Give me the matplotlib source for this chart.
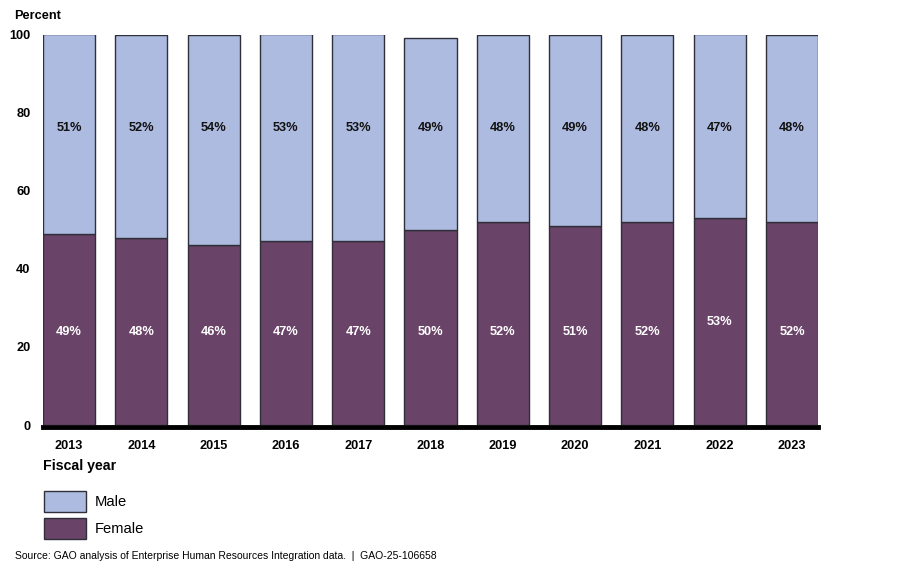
import matplotlib.pyplot as plt
from matplotlib.patches import Rectangle

plt.rcParams['font.family'] = ['Liberation Sans', 'DejaVu Sans']

years = ['2013', '2014', '2015', '2016', '2017', '2018', '2019', '2020', '2021', '2022', '2023']
female = [49, 48, 46, 47, 47, 50, 52, 51, 52, 53, 52]
male = [51, 52, 54, 53, 53, 49, 48, 49, 48, 47, 48]
yticks = [0, 20, 40, 60, 80, 100]

male_color = '#aebbe0'
female_color = '#6a4468'
edge = '#2f2f3a'

fig = plt.figure(figsize=(9, 5.73), dpi=100)
ax = fig.add_axes([43 / 900, 148 / 573, 775 / 900, 390.5 / 573])

x = list(range(len(years)))
ax.bar(x, female, width=0.72, color=female_color, edgecolor=edge, linewidth=1)
ax.bar(x, male, width=0.72, bottom=female, color=male_color, edgecolor=edge, linewidth=1)

# labels sit at fixed heights like the original
for i in x:
    ax.text(i, 76, f'{male[i]}%', ha='center', va='center', fontsize=9.2,
            fontweight='bold', color='#111111')
    fy = 26.4 if years[i] == '2022' else 23.8
    ax.text(i, fy, f'{female[i]}%', ha='center', va='center', fontsize=9.2,
            fontweight='bold', color='white')

ax.axhline(-0.4, color='black', linewidth=3.5, zorder=5, clip_on=False)
ax.set_xlim(-0.36, len(years) - 0.64)
ax.set_ylim(0, 100)
ax.set_yticks(yticks)
ax.set_yticklabels([str(t) for t in yticks], fontsize=9.2, fontweight='bold')
ax.set_xticks(x)
ax.set_xticklabels(years, fontsize=9.2, fontweight='bold')
ax.tick_params(axis='both', length=0)
ax.tick_params(axis='y', pad=9)
ax.tick_params(axis='x', pad=11)
for s in ax.spines.values():
    s.set_visible(False)

fig.text(14 / 900, 1 - 16 / 573, 'Percent', fontsize=9.2, fontweight='bold', va='center')
fig.text(43 / 900, 1 - 466 / 573, 'Fiscal year', fontsize=10.2, fontweight='bold', va='center')

# legend boxes
for j, (lab, col) in enumerate([('Male', male_color), ('Female', female_color)]):
    top = 491 + j * 27
    fig.patches.append(Rectangle((44 / 900, 1 - (top + 21) / 573), 42 / 900, 21 / 573,
                                 transform=fig.transFigure, facecolor=col,
                                 edgecolor=edge, linewidth=1))
    fig.text(95 / 900, 1 - (top + 11) / 573, lab, fontsize=10.6, va='center')

fig.text(15 / 900, 1 - 556 / 573,
         'Source: GAO analysis of Enterprise Human Resources Integration data.  |  GAO-25-106658',
         fontsize=7.5, va='center')

fig.savefig('out.png', dpi=100)
